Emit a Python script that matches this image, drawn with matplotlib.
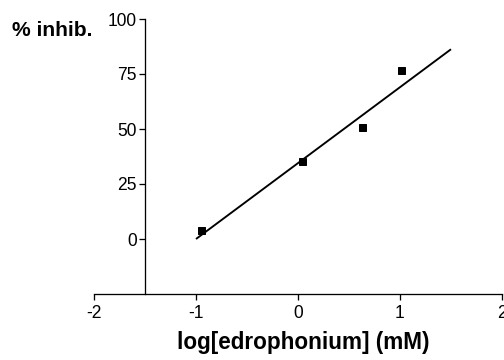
import matplotlib
matplotlib.use("Agg")
import matplotlib.pyplot as plt
import numpy as np

plt.rcParams['font.family'] = ['Liberation Sans', 'DejaVu Sans']
plt.rcParams['axes.unicode_minus'] = False

log_conc = [-0.954, 0.039, 0.632, 1.006]
pct_inhib = [4.1, 35.3, 50.8, 76.7]
fit_slope = 34.5
fit_intercept = 34.5
fit_x_range = [-1.0, 1.5]

x_ticks = [-2, -1, 0, 1, 2]
y_ticks = [0, 25, 50, 75, 100]

fig = plt.figure(figsize=(7, 5), dpi=72)
ax = fig.add_axes([94/504, 1-294/360, 408/504, 275/360])
ax.set_xlim(-2, 2)
ax.set_ylim(-25, 100)

fx = np.array(fit_x_range)
ax.plot(fx, fit_slope*fx + fit_intercept, color='black', lw=1.9, solid_capstyle='butt')
ax.plot(log_conc, pct_inhib, 's', color='black', ms=7, clip_on=False)

ax.spines['top'].set_visible(False)
ax.spines['right'].set_visible(False)
ax.spines['left'].set_position(('data', -1.5))
for s in ('left', 'bottom'):
    ax.spines[s].set_linewidth(1.3)

ax.set_xticks(x_ticks)
ax.set_yticks(y_ticks)
ax.tick_params(axis='both', direction='out', length=6, width=1.3, labelsize=17.5, pad=2)
ax.tick_params(axis='x', pad=5)

ax.set_xlabel('log[edrophonium] (mM)', fontsize=22.5, fontweight='bold')
ax.xaxis.set_label_coords(0.513, -0.178)
ax.xaxis.label.set_va('center')
fig.text(12/504, 1-31/360, '% inhib.', fontsize=21, fontweight='bold', ha='left', va='center')

fig.savefig('out.png', dpi=72)
